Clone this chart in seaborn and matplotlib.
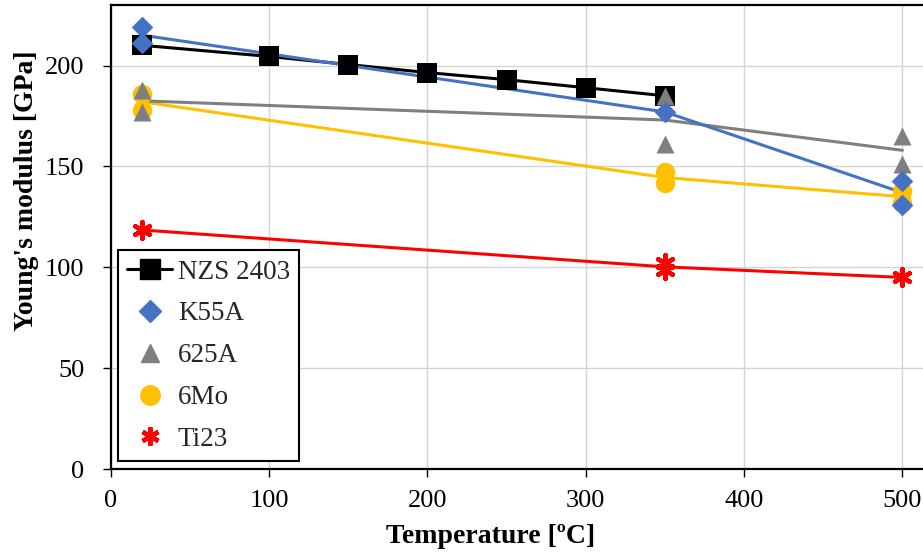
import matplotlib
matplotlib.use("Agg")
import matplotlib.pyplot as plt
from matplotlib.lines import Line2D
import seaborn as sns
import pandas as pd

# ---- data ----
nzs_temp = [20, 100, 150, 200, 250, 300, 350]
nzs_E = [210, 204.5, 200.5, 196.5, 193, 189, 185]

k55a_temp = [20, 20, 350, 500, 500]
k55a_E = [219, 211, 177, 143, 131]

a625_temp = [20, 20, 350, 350, 500, 500]
a625_E = [188, 177, 185, 161, 165, 151]

mo6_temp = [20, 20, 350, 350, 500, 500]
mo6_E = [186, 178, 147, 142, 138, 132]

ti23_temp = [20, 350, 350, 500]
ti23_E = [118.5, 102, 98.5, 95]

series = ["NZS 2403", "K55A", "625A", "6Mo", "Ti23"]
x_ticks = [0, 100, 200, 300, 400, 500]
y_ticks = [0, 50, 100, 150, 200]

sns.set_theme(style="whitegrid")
plt.rcParams["font.family"] = ["Liberation Serif", "DejaVu Serif"]

fig = plt.figure(figsize=(9.23, 5.52), dpi=100)
ax = fig.add_axes([0.120, 0.150, 0.880, 0.841])

colors = {"NZS 2403": "#000000", "K55A": "#4472C4", "625A": "#7F7F7F",
          "6Mo": "#FFC000", "Ti23": "#FF0000"}
markers = {"NZS 2403": "s", "K55A": "D", "625A": "^", "6Mo": "o", "Ti23": (6, 2, 0)}
msizes = {"NZS 2403": 14, "K55A": 11, "625A": 13, "6Mo": 14, "Ti23": 12}

data = {
    "NZS 2403": (nzs_temp, nzs_E),
    "K55A": (k55a_temp, k55a_E),
    "625A": (a625_temp, a625_E),
    "6Mo": (mo6_temp, mo6_E),
    "Ti23": (ti23_temp, ti23_E),
}

# trend lines through mean values
for name in ["Ti23", "6Mo", "625A", "NZS 2403", "K55A"]:
    t, e = data[name]
    df = pd.DataFrame({"T": t, "E": e})
    sns.lineplot(data=df, x="T", y="E", estimator="mean", errorbar=None,
                 color=colors[name], lw=2.2, ax=ax, zorder=3)

# markers
for name in ["NZS 2403", "Ti23", "6Mo", "625A", "K55A"]:
    t, e = data[name]
    df = pd.DataFrame({"T": t, "E": e})
    kw = dict(marker=markers[name], s=msizes[name] ** 2, color=colors[name], ax=ax, zorder=4)
    if name == "Ti23":
        kw.update(linewidths=3.2)
    else:
        kw.update(linewidth=0)
    sns.scatterplot(data=df, x="T", y="E", **kw)

ax.set_xlim(0, 513)
ax.set_ylim(0, 230)
ax.set_xticks(x_ticks)
ax.set_yticks(y_ticks)
ax.grid(True, color="#d4d4d4", lw=1.0)
ax.set_axisbelow(True)
ax.set_facecolor("white")
for s in ["left", "bottom", "top"]:
    ax.spines[s].set_visible(True)
    ax.spines[s].set_color("black")
    ax.spines[s].set_linewidth(1.6)
ax.spines["right"].set_visible(False)
ax.tick_params(axis="both", which="both", direction="out", length=6, width=1.0,
               color="black", labelsize=19, labelcolor="black", bottom=True, left=True)
ax.tick_params(axis="x", pad=9)
ax.tick_params(axis="y", pad=13)

ax.set_xlabel("Temperature [ºC]", fontsize=20, fontweight="bold", color="black")
ax.set_ylabel("Young's modulus [GPa]", fontsize=20, fontweight="bold", color="black")
ax.xaxis.set_label_coords(0.468, -0.118)
ax.yaxis.set_label_coords(-0.088, 0.60)

handles = [
    Line2D([], [], color="black", lw=2.2, marker="s", markersize=14),
    Line2D([], [], color=colors["K55A"], lw=0, marker="D", markersize=11),
    Line2D([], [], color=colors["625A"], lw=0, marker="^", markersize=13),
    Line2D([], [], color=colors["6Mo"], lw=0, marker="o", markersize=14),
    Line2D([], [], color=colors["Ti23"], lw=0, marker=(6, 2, 0), markersize=13, markeredgewidth=3.2),
]
leg = ax.legend(handles, series, loc="lower left", bbox_to_anchor=(0.0086, 0.017),
                borderaxespad=0, fontsize=19.5, frameon=True, fancybox=False,
                edgecolor="black", framealpha=1, handlelength=1.67, borderpad=0.35,
                labelspacing=0.62, handletextpad=0.2)
leg.get_frame().set_linewidth(1.5)

fig.savefig("out.png", dpi=100)
